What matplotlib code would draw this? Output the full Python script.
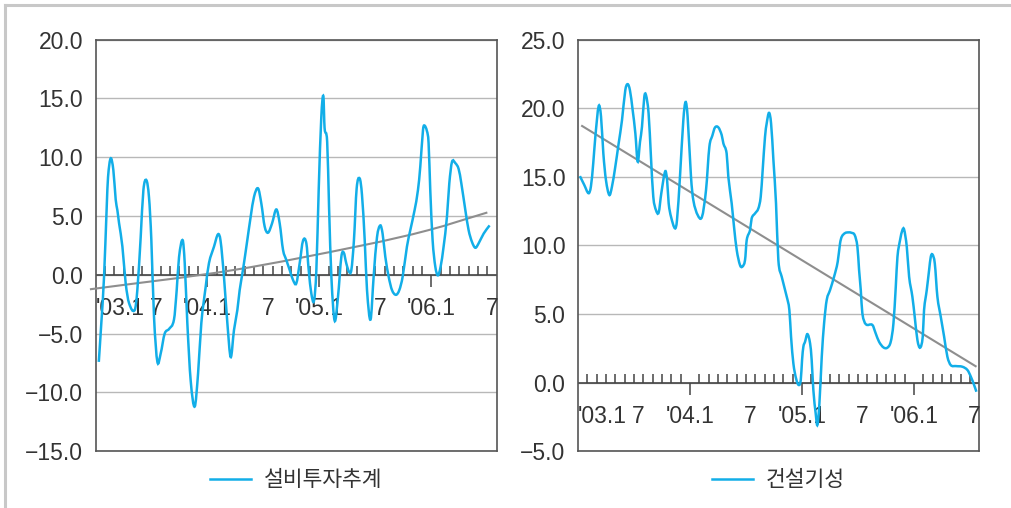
import numpy as np
import matplotlib
matplotlib.use('Agg')
import matplotlib.pyplot as plt
from matplotlib.path import Path
from matplotlib.patches import PathPatch
from matplotlib.lines import Line2D
from matplotlib.ticker import FuncFormatter

plt.rcParams['font.family'] = ['Liberation Sans', 'Noto Sans CJK KR']

# === 데이터 (월 단위, 0 = '03.1) ===
tick_months = [0, 6, 12, 18, 24, 30, 36, 42]
tick_labels = ["'03.1", "7", "'04.1", "7", "'05.1", "7", "'06.1", "7"]

# 설비투자추계
equip_t = [-0.15, 0.12, 0.41, 0.70, 0.84, 1.12, 1.41, 1.66, 1.84, 2.02, 2.38, 2.73, 3.09, 3.70,
           3.98, 4.34, 4.63, 4.95, 5.23, 5.48, 5.77, 6.13, 6.48, 6.91, 7.38, 7.91, 8.20, 8.45,
           8.84, 9.06, 9.34, 9.70, 10.13, 10.49, 10.84, 11.31, 11.66, 12.20, 12.63, 12.90, 13.27,
           13.63, 13.99, 14.34, 14.70, 14.95, 15.30, 15.77, 16.13, 16.49, 16.92, 17.27, 17.63,
           17.99, 18.42, 18.88, 19.24, 19.60, 19.95, 20.31, 20.67, 21.02, 21.38, 21.74, 22.10,
           22.35, 22.63, 22.92, 23.17, 23.42, 23.70, 23.92, 24.05, 24.33, 24.53, 24.78, 25.13,
           25.49, 25.85, 26.10, 26.38, 26.67, 26.92, 27.20, 27.49, 27.81, 28.06, 28.35, 28.60,
           28.98, 29.31, 29.67, 30.02, 30.27, 30.56, 30.92, 31.28, 31.70, 32.06, 32.42, 32.88,
           33.24, 33.70, 34.06, 34.31, 34.60, 34.74, 35.03, 35.20, 35.38, 35.63, 35.92, 36.20,
           36.49, 36.81, 37.17, 37.42, 37.71, 38.06, 38.42, 38.71, 39.14, 39.49, 39.85, 40.21,
           40.56, 41.10, 41.74]
equip_v = [-7.4, -4.1, -0.2, 5.8, 8.3, 9.9, 8.9, 6.4, 5.5, 4.4, 2.4, -0.7, -2.4, -3.0,
           -1.3, 3.2, 7.2, 8.05, 6.6, 3.0, -3.6, -7.4, -6.7, -5.0, -4.6, -3.8, -1.3, 1.5,
           2.95, 1.0, -4.1, -9.0, -11.2, -8.4, -4.1, -1.0, 1.0, 2.4, 3.45, 2.9, -0.2,
           -4.1, -7.0, -4.7, -3.0, -1.3, 0.4, 2.96, 4.94, 6.64, 7.35, 6.07, 4.1,
           3.58, 4.37, 5.56, 4.37, 2.11, 1.26, 0.41, -0.44, -0.73, 0.97, 2.9, 2.67,
           0.41, -1.58, -2.2, 0.4, 7.2, 13.4, 15.2, 12.5, 11.3, 5.8, -0.16, -3.9,
           -1.86, 1.54, 1.9, 0.97, 0.27, 0.4, 2.96, 7.35, 8.2, 6.8, 3.0, -1.3,
           -3.8, -0.16, 3.2, 4.2, 3.5, 1.54, -0.16, -1.3, -1.7, -1.3, -0.16, 2.4,
           3.8, 5.5, 7.2, 9.2, 12.3, 12.7, 12.2, 11.2, 7.2, 2.96, 0.7, -0.05,
           0.7, 2.4, 4.94, 7.77, 9.6, 9.5, 9.0, 7.77, 5.5, 3.8, 2.8, 2.3,
           2.67, 3.5, 4.2]
equip_trend_t = [-1.1, 14.3, 28.4, 35.2, 41.5]
equip_trend_v = [-1.23, 0.41, 2.55, 3.8, 5.3]

# 건설기성
constr_t = [-0.29, 0.18, 0.64, 0.89, 1.14, 1.36, 1.72, 1.97, 2.22, 2.50, 2.86, 3.14, 3.50, 3.86,
            4.22, 4.57, 4.82, 5.07, 5.36, 5.65, 5.90, 6.15, 6.36, 6.61, 6.79, 7.07, 7.32, 7.57,
            7.86, 8.15, 8.43, 8.85, 9.05, 9.22, 9.47, 9.90, 10.11, 10.43, 10.79, 11.03, 11.25,
            11.61, 11.86, 12.33, 12.79, 13.22, 13.58, 13.90, 14.18, 14.54, 14.90, 15.08, 15.43,
            15.61, 15.97, 16.22, 16.51, 16.86, 17.11, 17.40, 17.58, 17.94, 18.11, 18.47, 18.83,
            19.08, 19.29, 19.54, 19.72, 19.97, 20.19, 20.44, 20.72, 20.97, 21.33, 21.87, 22.15,
            22.33, 22.58, 22.87, 23.15, 23.37, 23.51, 23.65, 23.83, 24.08, 24.37, 24.54, 24.72,
            24.97, 25.15, 25.37, 25.62, 25.87, 26.15, 26.51, 26.94, 27.33, 27.58, 27.76, 28.12,
            28.50, 28.80, 29.15, 29.44, 29.62, 29.80, 29.97, 30.33, 31.05, 31.40, 31.76, 32.23,
            32.65, 33.01, 33.30, 33.55, 33.73, 34.01, 34.26, 34.44, 34.73, 34.98, 35.33, 35.58,
            35.87, 36.16, 36.44, 36.58, 36.87, 37.12, 37.30, 37.48, 37.73, 38.01, 38.37, 38.73,
            39.08, 39.44, 39.98, 40.69, 41.23, 41.59, 41.94, 42.19]
constr_v = [15.05, 14.4, 13.8, 14.3, 16.0, 17.9, 20.15, 19.4, 16.7, 14.76, 13.67, 14.27, 15.73, 17.43,
            19.13, 21.3, 21.75, 21.3, 19.86, 18.16, 16.1, 17.55, 18.64, 20.83, 20.95, 19.6, 16.46, 13.55,
            12.57, 12.4, 13.8, 15.4, 14.76, 13.06, 12.09, 11.24, 11.84, 15.0, 19.13, 20.45, 19.37,
            15.0, 13.3, 12.21, 12.09, 14.03, 17.19, 18.0, 18.59, 18.6, 18.04, 17.43, 16.7,
            15.0, 13.06, 11.36, 9.66, 8.57, 8.45, 8.93, 10.39, 11.12, 11.97, 12.33, 12.7,
            13.54, 15.49, 17.91, 18.89, 19.66, 18.89, 16.22, 13.06, 8.93, 7.72, 6.26, 5.29,
            3.35, 1.4, 0.3, -0.17, 0.19, 1.65, 2.62, 2.98, 3.54, 2.86, 1.65, -0.54,
            -2.24, -3.09, -1.5, 1.89, 4.32, 6.02, 6.75, 7.72, 8.81, 10.15, 10.63, 10.9,
            10.95, 10.92, 10.75, 9.9, 8.2, 6.75, 5.05, 4.27, 4.2, 3.59, 2.98, 2.57,
            2.55, 2.98, 4.32, 6.99, 9.17, 10.39, 11.12, 11.17, 9.9, 7.72, 6.26, 4.8,
            3.1, 2.55, 3.35, 5.29, 6.75, 8.2, 9.17, 9.34, 8.69, 6.26, 4.8, 3.35,
            1.89, 1.28, 1.21, 1.16, 0.92, 0.44, -0.17, -0.66]
constr_trend_t = [-0.15, 42.2]
constr_trend_v = [18.74, 1.16]

BLUE = '#12aee8'
GRAY = '#8e8e8e'
DARK = '#444444'
TEXT = '#333333'


# 엑셀 '부드러운 선'처럼 곡선 경로 생성
def smooth_path(t, v):
    t = np.asarray(t, float)
    v = np.asarray(v, float)
    n = len(t)
    m = np.empty(n)
    if n > 2:
        m[1:-1] = (v[2:] - v[:-2]) / (t[2:] - t[:-2])
    m[0] = (v[1] - v[0]) / (t[1] - t[0])
    m[-1] = (v[-1] - v[-2]) / (t[-1] - t[-2])
    verts = [(t[0], v[0])]
    codes = [Path.MOVETO]
    for i in range(n - 1):
        d = (t[i + 1] - t[i]) / 3
        verts += [(t[i] + d, v[i] + m[i] * d), (t[i + 1] - d, v[i + 1] - m[i + 1] * d), (t[i + 1], v[i + 1])]
        codes += [Path.CURVE4] * 3
    return Path(verts, codes)


def draw_panel(ax, t, v, trend_t, trend_v, ylim, yticks, name):
    ax.set_xlim(-0.5, 42.5)
    ax.set_ylim(*ylim)
    ax.set_yticks(yticks)
    ax.set_xticks([])
    ax.yaxis.set_major_formatter(FuncFormatter(lambda y, _: f'{y:.1f}'.replace('-', '\u2212')))
    ax.tick_params(axis='y', length=0, pad=9, labelsize=16.5, labelcolor=TEXT)
    ax.grid(axis='y', color='#b8b8b8', lw=1)
    ax.set_axisbelow(True)
    for s in ax.spines.values():
        s.set_color('#555555')
        s.set_linewidth(1.2)

    # 0 기준선과 눈금
    ax.axhline(0, color=DARK, lw=1.2, zorder=2)
    bounds = np.arange(0.5, 42, 1.0)
    is_major = (bounds + 0.5) % 12 == 0
    ax.plot(bounds[~is_major], np.zeros((~is_major).sum()), ls='none', marker=2, ms=6.2, mew=1.1, color=DARK, zorder=2)
    ax.plot(bounds[is_major], np.zeros(is_major.sum()), ls='none', marker=3, ms=8.8, mew=1.1, color=DARK, zorder=2)

    for m, lab in zip(tick_months, tick_labels):
        if m == 0:
            x, ha = -0.5, 'left'
        elif m % 12 == 0:
            x, ha = m - 0.5, 'center'
        else:
            x, ha = m, 'center'
        ax.annotate(lab, xy=(x, 0), xytext=(0, -24), textcoords='offset points',
                    ha=ha, va='center', fontsize=16.5, color=TEXT, annotation_clip=False)

    trend = PathPatch(smooth_path(trend_t, trend_v), fill=False, ec=GRAY, lw=1.5, zorder=3)
    trend.set_clip_on(False)
    ax.add_patch(trend)
    ax.add_patch(PathPatch(smooth_path(t, v), fill=False, ec=BLUE, lw=1.8, zorder=4))

    leg = ax.legend(handles=[Line2D([], [], color=BLUE, lw=1.8)], labels=[name],
                    loc='center', bbox_to_anchor=(0.5, -0.071), frameon=False,
                    fontsize=15.5, handlelength=1.9, handletextpad=0.6)
    for txt in leg.get_texts():
        txt.set_color(TEXT)


fig = plt.figure(figsize=(10.12, 5.08), dpi=100)
ax1 = fig.add_axes([0.0944, 0.1116, 0.3964, 0.8106])
ax2 = fig.add_axes([0.5711, 0.1116, 0.3966, 0.8106])

draw_panel(ax1, equip_t, equip_v, equip_trend_t, equip_trend_v, (-15, 20),
           np.arange(-15, 20.1, 5), '설비투자추계')
draw_panel(ax2, constr_t, constr_v, constr_trend_t, constr_trend_v, (-5, 25),
           np.arange(-5, 25.1, 5), '건설기성')

# 바깥 테두리 (위, 왼쪽)
fig.add_artist(Line2D([5 / 1012, 1], [1 - 4.7 / 508] * 2, transform=fig.transFigure, color='#c8c8c8', lw=2.2))
fig.add_artist(Line2D([5 / 1012] * 2, [0, 1 - 4.7 / 508], transform=fig.transFigure, color='#c8c8c8', lw=2.2))

fig.savefig('out.png', dpi=100)
